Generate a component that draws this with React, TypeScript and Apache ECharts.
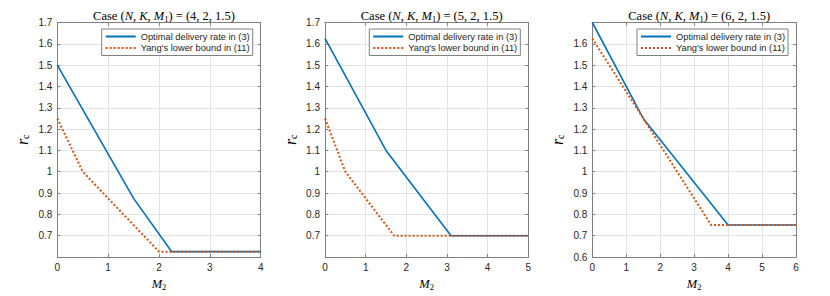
import React, { useEffect, useRef } from 'react';
import * as echarts from 'echarts';

const optName = 'Optimal delivery rate in (3)';
const lbName = "Yang's lower bound in (11)";
const caseValues = ['(4, 2, 1.5)', '(5, 2, 1.5)', '(6, 2, 1.5)'];
const xMaxes = [4, 5, 6];

const optM2A = [0, 1.5, 2.25, 4];
const optRcA = [1.5, 0.875, 0.625, 0.625];
const lbM2A = [0, 0.5, 2, 4];
const lbRcA = [1.25, 1.0, 0.625, 0.625];

const optM2B = [0, 1.5, 3.1, 5];
const optRcB = [1.625, 1.1, 0.7, 0.7];
const lbM2B = [0, 0.5, 1.7, 5];
const lbRcB = [1.25, 1.0, 0.7, 0.7];

const optM2C = [0, 1.5, 4, 6];
const optRcC = [1.7, 1.25, 0.75, 0.75];
const lbM2C = [0, 3.5, 6];
const lbRcC = [1.625, 0.75, 0.75];

const panels = [
  { opt: [optM2A, optRcA], lb: [lbM2A, lbRcA] },
  { opt: [optM2B, optRcB], lb: [lbM2B, lbRcB] },
  { opt: [optM2C, optRcC], lb: [lbM2C, lbRcC] },
];

const BLUE = '#0072BD';
const ORANGE = '#D95319';
const AXIS = '#808080';
const TXT = '#262626';
const GRIDC = '#e3e3e3';
const SANS = '"Liberation Sans", Arial, sans-serif';
const SERIF = '"Liberation Serif", "DejaVu Serif", serif';

const gridLefts = [57.3, 325, 592.3];
const gridWidths = [203.4, 203.3, 203.7];
const gridTop = 22.5;
const gridHeight = 241;

const zip = (xs: number[], ys: number[]) => xs.map((x, i) => [x, ys[i]]);

export default function App() {
  const ref = useRef<HTMLDivElement>(null);
  useEffect(() => {
    document.body.style.margin = '0';
    const chart = echarts.init(ref.current!, null, { renderer: 'svg' });
    const grid: any[] = [];
    const xAxis: any[] = [];
    const yAxis: any[] = [];
    const series: any[] = [];
    const title: any[] = [];
    const legend: any[] = [];
    const mathRich = {
      t: { fontFamily: SERIF, fontSize: 12.5, fontWeight: 'normal', color: '#000' },
      i: { fontFamily: SERIF, fontSize: 12.5, fontWeight: 'normal', fontStyle: 'italic', color: '#000' },
      s: { fontFamily: SERIF, fontSize: 8.5, fontWeight: 'normal', color: '#000', padding: [5, 0, 0, 0] },
    };
    panels.forEach((p, g) => {
      grid.push({ left: gridLefts[g], width: gridWidths[g], top: gridTop, height: gridHeight, show: false });
      const hideLabel = (v: number) => {
        if (g < 2 && v < 0.65) return '';
        if (g === 2 && v > 1.65) return '';
        return String(Math.round(v * 10) / 10);
      };
      const common = {
        type: 'value',
        gridIndex: g,
        axisLine: { show: true, onZero: false, lineStyle: { color: AXIS, width: 1 } },
        axisTick: { show: true, inside: true, length: 3, lineStyle: { color: AXIS } },
      };
      xAxis.push({
        ...common,
        position: 'bottom',
        min: 0,
        max: xMaxes[g],
        interval: 1,
        splitLine: { show: true, lineStyle: { color: GRIDC, width: 1 } },
        axisLabel: { color: TXT, fontFamily: SANS, fontSize: 10, margin: 5 },
        name: '{i|M}{s|2}',
        nameLocation: 'middle',
        nameGap: 20,
        nameTextStyle: { rich: mathRich },
      });
      xAxis.push({
        ...common,
        position: 'top',
        min: 0,
        max: xMaxes[g],
        interval: 1,
        splitLine: { show: false },
        axisLabel: { show: false },
      });
      yAxis.push({
        ...common,
        position: 'left',
        min: 0.6,
        max: 1.7,
        interval: 0.1,
        splitLine: { show: true, lineStyle: { color: GRIDC, width: 1 } },
        axisLabel: { color: TXT, fontFamily: SANS, fontSize: 10, margin: 5, formatter: hideLabel },
        name: '{i|r}{s|c}',
        nameLocation: 'middle',
        nameRotate: 90,
        nameGap: 27,
        nameTextStyle: { rich: { ...mathRich, i: { ...mathRich.i, fontSize: 16 }, s: { ...mathRich.s, fontSize: 10, padding: [6, 0, 0, 0] } } },
      });
      yAxis.push({
        ...common,
        position: 'right',
        min: 0.6,
        max: 1.7,
        interval: 0.1,
        splitLine: { show: false },
        axisLabel: { show: false },
      });
      series.push({
        type: 'line',
        name: optName,
        xAxisIndex: 2 * g,
        yAxisIndex: 2 * g,
        data: zip(p.opt[0], p.opt[1]),
        symbol: 'none',
        lineStyle: { color: BLUE, width: 1.6 },
        itemStyle: { color: BLUE },
      });
      series.push({
        type: 'line',
        name: lbName,
        xAxisIndex: 2 * g,
        yAxisIndex: 2 * g,
        data: zip(p.lb[0], p.lb[1]),
        symbol: 'none',
        lineStyle: { color: ORANGE, width: 2, type: 'dotted' },
        itemStyle: { color: ORANGE },
      });
      title.push({
        text: `{t|Case (}{i|N}{t|, }{i|K}{t|, }{i|M}{s|1}{t|) = ${caseValues[g]}}`,
        left: gridLefts[g] + gridWidths[g] / 2,
        textAlign: 'center',
        top: 4,
        textStyle: { fontWeight: 'normal', rich: mathRich },
      });
      legend.push({
        data: [optName, lbName],
        orient: 'vertical',
        align: 'left',
        right: 830 - (gridLefts[g] + gridWidths[g]) + 8,
        top: 29,
        itemWidth: 30,
        itemHeight: 10,
        itemGap: 2.5,
        padding: [3, 3, 3, 3],
        itemStyle: { opacity: 0 },
        borderColor: AXIS,
        borderWidth: 1,
        backgroundColor: '#fff',
        textStyle: { fontFamily: SANS, fontSize: 9.3, color: TXT },
        selectedMode: false,
      });
    });
    chart.setOption({ animation: false, backgroundColor: '#fff', grid, xAxis, yAxis, series, title, legend });
    return () => chart.dispose();
  }, []);
  return <div ref={ref} style={{ width: 830, height: 296 }} />;
}
